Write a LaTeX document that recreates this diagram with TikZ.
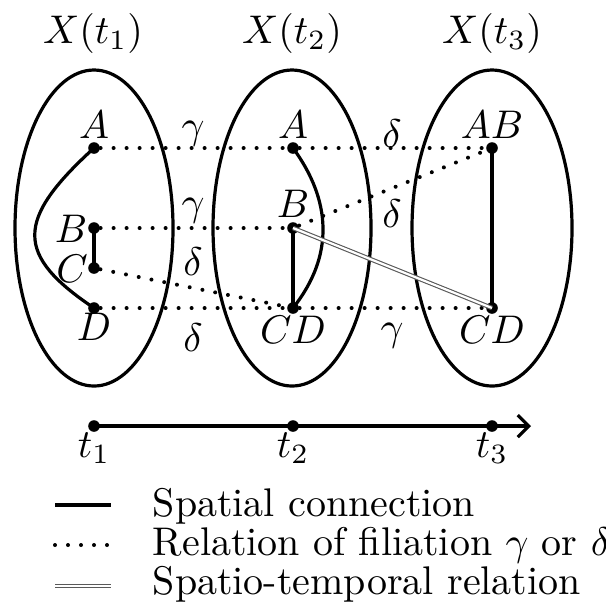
\documentclass[tikz,border=0pt]{standalone}
\usetikzlibrary{arrows.meta}
\begin{document}
\begin{tikzpicture}[x=0.25pt,y=-0.25pt,
  every node/.style={inner sep=0pt},
  region/.style={draw, line width=0.8pt},
  pt/.style={circle, fill, inner sep=0pt, minimum size=2.9pt},
  spatial/.style={line width=0.8pt},
  filiation/.style={line width=1.0pt, line cap=round, dash pattern=on 0pt off 3.25pt},
  sptemp/.style={draw=black!65, line width=0.28pt, double=white, double distance=0.55pt},
  lab/.style={anchor=base}
]
\useasboundingbox (0,0) rectangle (606,602);

% regions
\draw[region] (94,228) ellipse [x radius=79, y radius=158];
\draw[region] (292,228) ellipse [x radius=79, y radius=158];
\draw[region] (492,228) ellipse [x radius=80, y radius=158];

% titles
\node (T1) at (93,33) {$X(t_1)$};
\node (T2) at (292,33) {$X(t_2)$};
\node (T3) at (492,33) {$X(t_3)$};

% points
\node[pt] (A1) at (94,148) {};
\node[pt] (B1) at (94,228) {};
\node[pt] (C1) at (94,268) {};
\node[pt] (D1) at (94,308) {};
\node[pt] (A2) at (293,148) {};
\node[pt] (B2) at (293,228) {};
\node[pt] (CD2) at (293,308) {};
\node[pt] (AB3) at (492,148) {};
\node[pt] (CD3) at (492,308) {};

% filiation
\draw[filiation] (A1) -- (A2);
\draw[filiation] (A2) -- (AB3);
\draw[filiation] (B1) -- (B2);
\draw[filiation] (B2) -- (AB3);
\draw[filiation] (C1) -- (CD2);
\draw[filiation] (D1) -- (CD2);
\draw[filiation] (CD2) -- (CD3);

% spatial
\draw[spatial] (A1.center) .. controls (15,220) and (15,255) .. (D1.center);
\draw[spatial] (B1.center) -- (C1.center);
\draw[spatial] (A2.center) .. controls (331,200) and (335,255) .. (CD2.center);
\draw[spatial] (B2.center) -- (CD2.center);
\draw[spatial] (AB3.center) -- (CD3.center);

% spatio-temporal
\draw[sptemp] (B2.center) -- (CD3.center);

% point labels
\node[lab] (lA1) at (94,138) {$A$};
\node[lab] (lB1) at (71,242) {$B$};
\node[lab] (lC1) at (72,282) {$C$};
\node[lab] (lD1) at (94,340) {$D$};
\node[lab] (lA2) at (293,138) {$A$};
\node[lab] (lB2) at (293,217) {$B$};
\node[lab] (lCD2) at (293,343) {$CD$};
\node[lab] (lAB3) at (492,138) {$AB$};
\node[lab] (lCD3) at (492,343) {$CD$};

% relation labels
\node[lab] (g1) at (193,138) {$\gamma$};
\node[lab] (g2) at (193,215) {$\gamma$};
\node[lab] (d1) at (193,275) {$\delta$};
\node[lab] (d2) at (193,351) {$\delta$};
\node[lab] (d3) at (392,147) {$\delta$};
\node[lab] (d4) at (392,227) {$\delta$};
\node[lab] (g3) at (392,340) {$\gamma$};

% timeline
\node[pt] (t1) at (94,426) {};
\node[pt] (t2) at (293,426) {};
\node[pt] (t3) at (492,426) {};
\coordinate (tend) at (531,426);
\draw[spatial, -{Straight Barb[length=2.75pt,width=5.5pt]}] (t1.center) -- (tend);
\node[lab] (lt1) at (94,457) {$t_1$};
\node[lab] (lt2) at (293,457) {$t_2$};
\node[lab] (lt3) at (492,457) {$t_3$};

% legend
\coordinate (la) at (55,505); \coordinate (lb) at (111,505);
\coordinate (lc) at (55,545); \coordinate (ld) at (110,545);
\coordinate (le) at (55,586); \coordinate (lf) at (111,586);
\draw[spatial, line width=0.9pt] (la) -- (lb);
\draw[filiation] (lc) -- (ld);
\draw[sptemp] (le) -- (lf);
\node[anchor=base west] (L1) at (152,516) {Spatial connection};
\node[anchor=base west] (L2) at (152,555) {Relation of filiation $\gamma$ or $\delta$};
\node[anchor=base west] (L3) at (152,594) {Spatio-temporal relation};
\end{tikzpicture}
\end{document}
